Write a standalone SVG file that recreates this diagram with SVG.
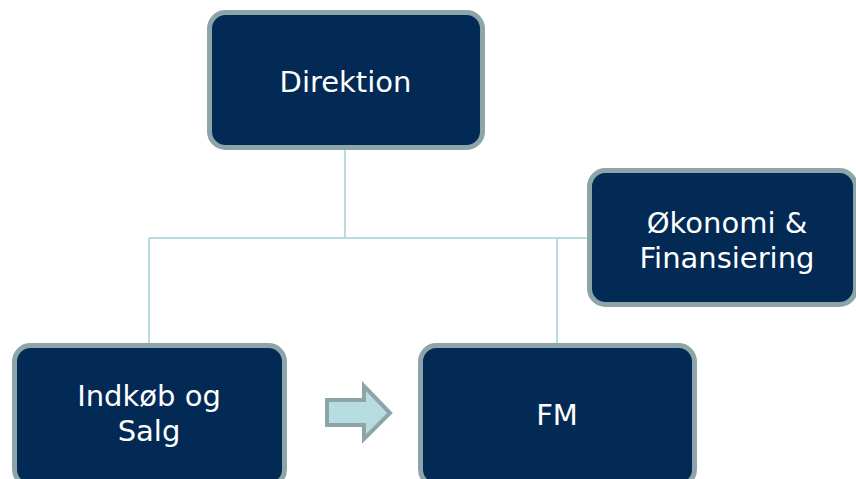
<svg xmlns="http://www.w3.org/2000/svg" width="856" height="479" viewBox="0 0 856 479">
<style>
.box{fill:#022a55;stroke:#8da5a8;stroke-width:5}
.lbl{fill:#ffffff;font-family:"DejaVu Sans",Verdana,sans-serif;font-size:29px;text-anchor:middle}
.conn{stroke:#b7dde0;stroke-width:2;fill:none}
</style>
<rect width="856" height="479" fill="#ffffff"/>
<g id="connectors">
<path class="conn" d="M345 150V238M149 238H589M149 238V343M557 238V343"/>
</g>
<g id="direktion">
<rect class="box" x="209.5" y="12.5" width="273" height="135" rx="16"/>
<text class="lbl" x="345.5" y="92">Direktion</text>
</g>
<g id="okonomi">
<rect class="box" x="589.5" y="170.5" width="266" height="134" rx="16"/>
<text class="lbl" x="727" y="233">Økonomi &amp;</text>
<text class="lbl" x="727" y="268">Finansiering</text>
</g>
<g id="indkob">
<rect class="box" x="14.5" y="345.5" width="270" height="140" rx="16"/>
<text class="lbl" x="149" y="406">Indkøb og</text>
<text class="lbl" x="149" y="441">Salg</text>
</g>
<g id="fm">
<rect class="box" x="420.5" y="345.5" width="274" height="140" rx="16"/>
<text class="lbl" x="557" y="425">FM</text>
</g>
<g id="arrow">
<polygon points="327,400 364,400 364,386 390,413 364,439 364,425 327,425" fill="#b7dde0" stroke="#8da5a8" stroke-width="4" stroke-linejoin="miter"/>
</g>
</svg>
